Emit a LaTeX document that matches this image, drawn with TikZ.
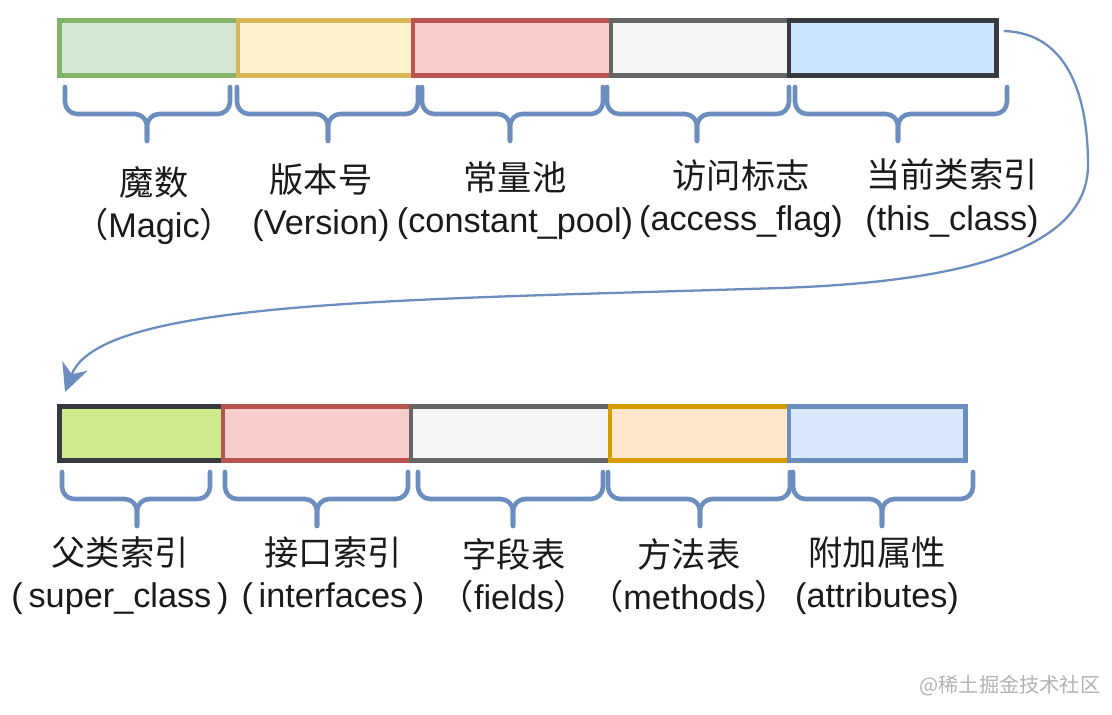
\documentclass[tikz,border=0pt]{standalone}
\usepackage{fontspec}
\setmainfont{Liberation Sans}
\newfontfamily\cjk{Noto Sans CJK SC}
\usepackage{tikz}
\usetikzlibrary{arrows.meta,calc}
\definecolor{bracec}{HTML}{6C8EBF}
\definecolor{txt}{HTML}{1A1A1A}
\newcommand{\fieldbrace}[5]{% left, tip, right, top, bottom
 \pgfmathsetmacro{\brcmid}{#4+0.5*(#5-#4)}
 \draw[brc] (#1,#4) |- (#2,\brcmid) -- (#2,#5);
 \draw[brc] (#3,#4) |- (#2,\brcmid) -- (#2,#5);}

\begin{document}
\begin{tikzpicture}[x=0.02cm,y=-0.02cm,
 cell/.style={draw,line width=2.8pt,inner sep=0pt,minimum height=1.1cm},
 lbl/.style={align=center,text=txt,inner sep=1pt,font=\fontsize{19.5}{24}\selectfont},
 brc/.style={draw=bracec,line width=2.6pt,rounded corners=7pt,line cap=round},
 a/.style={-{Stealth[length=5.6mm,width=5.4mm,inset=1.8mm]},draw=bracec,line width=1.3pt}]
\useasboundingbox[fill=white] (0,0) rectangle (1112,714);
% first row
\node[cell,draw={rgb,255:red,130;green,179;blue,102},fill={rgb,255:red,213;green,232;blue,212},minimum width=3.57cm] (magic) at (148.75,48) {};
\node[cell,draw={rgb,255:red,214;green,182;blue,86},fill={rgb,255:red,255;green,242;blue,204},minimum width=3.5cm] (version) at (325.5,48) {};
\node[cell,draw={rgb,255:red,184;green,84;blue,80},fill={rgb,255:red,248;green,206;blue,204},minimum width=3.96cm] (pool) at (512,48) {};
\node[cell,draw={rgb,255:red,102;green,102;blue,102},fill={rgb,255:red,245;green,245;blue,245},minimum width=3.56cm] (access) at (700,48) {};
\node[cell,draw={rgb,255:red,54;green,57;blue,61},fill={rgb,255:red,204;green,229;blue,255},minimum width=4.15cm] (this) at (892.75,48) {};
% second row
\node[cell,draw={rgb,255:red,54;green,57;blue,61},fill={rgb,255:red,205;green,235;blue,139},minimum width=3.27cm,minimum height=1.08cm] (super) at (141.25,433.5) {};
\node[cell,draw={rgb,255:red,184;green,84;blue,80},fill={rgb,255:red,248;green,206;blue,204},minimum width=3.76cm,minimum height=1.08cm] (iface) at (317,433.5) {};
\node[cell,draw={rgb,255:red,102;green,102;blue,102},fill={rgb,255:red,245;green,245;blue,247},minimum width=3.98cm,minimum height=1.08cm] (fields) at (510.5,433.5) {};
\node[cell,draw={rgb,255:red,215;green,155;blue,0},fill={rgb,255:red,255;green,230;blue,204},minimum width=3.58cm,minimum height=1.08cm] (methods) at (699.5,433.5) {};
\node[cell,draw={rgb,255:red,108;green,142;blue,191},fill={rgb,255:red,218;green,232;blue,252},minimum width=3.53cm,minimum height=1.08cm] (attrs) at (877.25,433.5) {};
% braces
\fieldbrace{65}{147}{230}{87}{141}
\fieldbrace{237}{328}{418}{87}{141}
\fieldbrace{422}{510}{603}{87}{141}
\fieldbrace{607}{697}{789}{87}{141}
\fieldbrace{795}{898}{1007}{87}{141}
\fieldbrace{62}{137}{210}{472}{526}
\fieldbrace{225}{317}{408}{472}{526}
\fieldbrace{418}{513}{603}{472}{526}
\fieldbrace{608}{700}{790}{472}{526}
\fieldbrace{793}{882}{973}{472}{526}
% labels
\node[lbl] (lmagic) at (154,206) {{\cjk 魔数}\\{\cjk （}Magic{\cjk ）}};
\node[lbl] (lversion) at (321,203) {{\cjk 版本号}\\(Version)};
\node[lbl] (lpool) at (515,201) {{\cjk 常量池}\\(constant\_pool)};
\node[lbl] (laccess) at (741,199) {{\cjk 访问标志}\\(access\_flag)};
\node[lbl] (lthis) at (952,198) {{\cjk 当前类索引}\\(this\_class)};
\node[lbl] (lsuper) at (120,576) {{\cjk 父类索引}\\(\,super\_class\,)};
\node[lbl] (liface) at (333,576) {{\cjk 接口索引}\\(\,interfaces\,)};
\node[lbl] (lfields) at (514,576) {{\cjk 字段表}\\{\cjk （}fields{\cjk ）}};
\node[lbl] (lmethods) at (689,576) {{\cjk 方法表}\\{\cjk （}methods{\cjk ）}};
\node[lbl] (lattrs) at (877,576) {{\cjk 附加属性}\\(attributes)};
% link from this_class to super_class
\coordinate (from) at ($(this.north east)+(5,13)$);
\coordinate (to) at ($(super.north west)+(8,-12)$);
\draw[a] (from) .. controls (1070,33) and (1088,100) .. (1088,165)
 .. controls (1088,250) and (960,282) .. (780,288)
 .. controls (400,300) and (100,300) .. (to);
\node[text=black!30,font=\cjk\fontsize{11.5}{14}\selectfont] (mark) at (1010,686) {@稀土掘金技术社区};
\end{tikzpicture}
\end{document}
